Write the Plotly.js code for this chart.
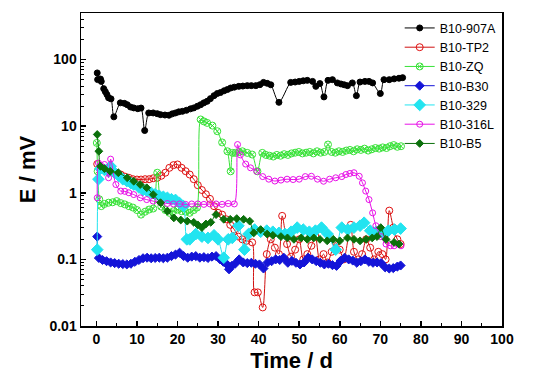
<!DOCTYPE html>
<html>
<head>
<meta charset="utf-8">
<script src="https://cdn.plot.ly/plotly-3.0.1.min.js"></script>
<style>html,body{margin:0;padding:0;background:#fff;}#chart{width:536px;height:379px;}</style>
</head>
<body>
<div id="chart"></div>
<script>
// ---- Data (time in days, potential in mV) ----
var seriesNames = ["B10-907A", "B10-TP2", "B10-ZQ", "B10-B30", "B10-329", "B10-316L", "B10-B5"];

var a907X = [0.2, 0.3, 1.0, 1.2, 1.8, 2.2, 2.6, 3.0, 3.6, 4.3,
             5.9, 6.9, 7.6, 8.4, 9.2, 10.2, 11.0, 11.9, 12.9, 14.0,
             15.0, 15.8, 16.9, 17.9, 18.7, 19.5, 20.3, 21.2, 22.2, 23.2,
             24.0, 24.9, 25.7, 26.5, 27.3, 28.1, 29.0, 29.8, 30.6, 31.5,
             32.3, 33.1, 34.0, 35.1, 36.1, 37.2, 38.2, 39.3, 40.3, 41.2,
             42.1, 43.0, 45.0, 47.9, 49.0, 50.0, 51.0, 52.0, 53.3, 54.1,
             55.1, 56.1, 57.1, 58.2, 59.4, 60.3, 61.1, 61.9, 63.1, 64.1,
             65.0, 66.2, 67.2, 68.1, 70.0, 70.9, 72.2, 73.4, 74.6, 75.5];
var a907Y = [63, 50, 51, 47, 36.6, 33, 29.8, 26.6, 25.7, 13.8,
             22.4, 22, 21, 19.4, 18.8, 18.3, 18.7, 8.6, 15.8, 15.8,
             15.4, 14.9, 14.7, 14.6, 15.3, 15.8, 16.4, 16.7, 17.3, 18.2,
             18.8, 19.9, 21, 22.4, 23.6, 25.9, 28.7, 30.9, 32, 34,
             35.5, 37.4, 38.5, 39.6, 40, 40.6, 40.6, 40.6, 42, 45.4,
             44, 41.8, 22.8, 45.4, 46, 47, 48, 48.7, 47, 39.6,
             43.6, 27.5, 48.7, 49.9, 44.6, 43, 41.8, 40.6, 44.6, 28.7,
             46, 47, 47, 44.6, 30.9, 49.9, 49.9, 51.3, 52.4, 53.5];

var tp2X = [0.2, 1.0, 2.0, 3.0, 4.0, 5.0, 6.0, 7.0, 8.0, 9.0,
            10.0, 11.0, 12.0, 13.0, 14.0, 15.0, 16.0, 17.0, 18.0, 19.0,
            20.0, 21.0, 22.0, 23.0, 24.0, 25.0, 26.0, 27.0, 28.0, 29.0,
            30.0, 31.0, 32.0, 33.0, 34.0, 35.0, 36.0, 37.0, 38.4, 39.0,
            39.8, 41.0, 42.0, 43.0, 44.0, 45.0, 45.8, 47.0, 48.0, 49.0,
            50.0, 51.0, 52.0, 53.0, 54.0, 55.0, 56.0, 57.0, 58.0, 59.0,
            60.0, 61.0, 62.7, 63.5, 64.5, 65.5, 66.5, 67.5, 68.5, 69.5,
            70.5, 71.3, 72.2, 73.2, 74.2, 75.0];
var tp2Y = [2.7, 2.4, 2.2, 2.05, 2.0, 2.0, 1.88, 1.75, 1.68, 1.6,
            1.58, 1.58, 1.6, 1.6, 1.65, 1.68, 1.8, 2.0, 2.37, 2.6,
            2.66, 2.37, 2.11, 1.88, 1.6, 1.3, 1.1, 0.95, 0.81, 0.63,
            0.5, 0.47, 0.4, 0.33, 0.28, 0.22, 0.2, 0.19, 0.18, 0.032,
            0.032, 0.019, 0.12, 0.2, 0.15, 0.12, 0.45, 0.17, 0.11, 0.14,
            0.2, 0.1, 0.12, 0.16, 0.22, 0.1, 0.12, 0.09, 0.13, 0.18,
            0.14, 0.1, 0.33, 0.13, 0.1, 0.12, 0.2, 0.15, 0.1, 0.13,
            0.12, 0.1, 0.54, 0.3, 0.2, 0.17];

var zqX = [0.1, 0.3, 0.7, 1.2, 2.0, 3.0, 4.0, 5.0, 6.0, 7.0,
           8.0, 9.0, 10.0, 11.0, 12.0, 13.0, 14.0, 15.0, 16.0, 17.0,
           18.0, 19.0, 20.0, 21.0, 22.0, 23.0, 24.0, 24.8, 25.7, 26.5,
           27.3, 28.6, 29.8, 31.0, 32.3, 33.1, 33.6, 34.3, 35.2, 36.0,
           37.2, 38.4, 39.7, 40.9, 41.8, 42.7, 43.6, 44.5, 45.4, 46.3,
           47.2, 48.1, 49.0, 49.9, 50.8, 51.7, 52.6, 53.5, 54.4, 55.3,
           56.2, 57.1, 58.0, 58.9, 59.8, 60.7, 61.6, 62.5, 63.4, 64.3,
           65.2, 66.1, 67.0, 67.9, 68.8, 69.7, 70.6, 71.5, 72.4, 73.3,
           74.2, 75.1];
var zqY = [5.6, 2.1, 0.8, 0.63, 0.68, 0.71, 0.72, 0.75, 0.7, 0.67,
           0.63, 0.6, 0.55, 0.47, 0.52, 0.56, 0.58, 2.0, 0.62, 0.55,
           0.5, 0.53, 0.56, 0.53, 0.52, 0.5, 0.55, 0.6, 12.6, 11.8,
           11.2, 10.2, 8.4, 5.7, 4.2, 2.1, 3.97, 3.97, 4.1, 4.2,
           3.97, 3.75, 2.1, 3.97, 3.7, 3.6, 3.5, 3.7, 3.6, 3.8,
           3.7, 3.9, 4.0, 4.1, 3.9, 4.0, 4.1, 3.9, 4.2, 4.0,
           4.1, 5.3, 4.1, 4.0, 4.2, 4.1, 4.3, 4.4, 4.2, 4.5,
           4.4, 4.6, 4.3, 4.5, 4.7, 4.6, 4.8, 4.7, 5.0, 5.2,
           4.9, 5.0];

var b30X = [0.2, 0.6, 1.5, 2.5, 3.5, 4.5, 5.5, 6.5, 7.5, 8.5,
            9.5, 10.5, 11.5, 12.5, 13.5, 14.5, 15.5, 16.5, 17.5, 18.5,
            19.5, 20.5, 21.5, 22.5, 23.5, 24.5, 25.5, 26.5, 27.5, 28.5,
            29.5, 30.5, 31.3, 32.2, 32.7, 33.4, 34.2, 35.2, 36.2, 37.2,
            38.2, 39.2, 40.2, 41.2, 42.2, 43.2, 44.2, 45.2, 46.2, 47.2,
            48.2, 49.2, 50.2, 51.2, 52.2, 53.2, 54.2, 55.2, 56.2, 57.2,
            58.2, 59.2, 60.2, 61.2, 62.2, 63.2, 64.2, 65.2, 66.2, 67.2,
            68.2, 69.2, 70.2, 71.2, 72.2, 73.2, 74.2, 75.0];
var b30Y = [0.22, 0.105, 0.098, 0.094, 0.09, 0.088, 0.086, 0.085, 0.084, 0.086,
            0.092, 0.098, 0.104, 0.106, 0.104, 0.105, 0.106, 0.104, 0.106, 0.112,
            0.118, 0.126, 0.112, 0.106, 0.11, 0.112, 0.106, 0.108, 0.105, 0.11,
            0.112, 0.1, 0.092, 0.084, 0.071, 0.08, 0.086, 0.1, 0.09, 0.088,
            0.089, 0.086, 0.084, 0.073, 0.09, 0.094, 0.1, 0.098, 0.106, 0.089,
            0.095, 0.089, 0.084, 0.09, 0.106, 0.1, 0.094, 0.089, 0.084, 0.086,
            0.082, 0.08, 0.095, 0.106, 0.1, 0.096, 0.089, 0.094, 0.1, 0.092,
            0.089, 0.09, 0.088, 0.076, 0.073, 0.074, 0.078, 0.081];

var s329X = [0.2, 0.5, 1.0, 2.0, 3.0, 3.5, 4.5, 5.5, 6.5, 7.5,
             8.5, 9.2, 10.5, 11.5, 12.5, 13.5, 14.5, 15.5, 16.5, 17.5,
             18.5, 19.5, 20.5, 21.5, 22.3, 23.0, 24.5, 26.0, 27.5, 29.0,
             30.0, 31.4, 32.5, 33.5, 35.0, 36.5, 37.5, 39.0, 40.5, 42.0,
             43.5, 45.0, 46.5, 48.0, 49.5, 51.0, 52.5, 54.0, 55.5, 57.0,
             59.0, 60.5, 62.0, 63.5, 65.0, 66.0, 67.5, 69.0, 70.5, 72.0,
             73.5, 75.0];
var s329Y = [0.14, 1.6, 2.3, 2.2, 2.1, 2.5, 2.0, 1.8, 1.6, 1.5,
             1.4, 1.33, 1.2, 1.1, 1.06, 1.0, 0.95, 0.9, 0.87, 0.84,
             0.8, 0.78, 0.7, 0.63, 0.2, 0.2, 0.24, 0.22, 0.21, 0.23,
             0.2, 0.106, 0.2, 0.21, 0.32, 0.14, 0.24, 0.28, 0.26, 0.27,
             0.26, 0.25, 0.24, 0.26, 0.3, 0.28, 0.26, 0.27, 0.3, 0.24,
             0.14, 0.3, 0.28, 0.3, 0.32, 0.355, 0.27, 0.26, 0.25, 0.27,
             0.28, 0.29];

var s316X = [0.2, 0.5, 1.0, 2.0, 3.0, 3.5, 4.8, 6.0, 7.0, 8.0,
             9.2, 10.8, 12.4, 14.0, 15.8, 17.5, 19.0, 20.5, 22.0, 23.5,
             25.0, 26.5, 28.0, 29.5, 31.0, 32.5, 34.0, 34.8, 35.5, 36.8,
             38.0, 39.5, 41.0, 42.5, 44.0, 45.5, 47.0, 48.5, 50.0, 51.5,
             53.0, 54.5, 56.0, 57.5, 59.0, 60.5, 61.5, 62.5, 63.5, 64.8,
             65.6, 66.4, 67.2, 68.1, 68.9, 70.1, 71.4, 72.5, 73.4, 74.3,
             75.1];
var s316Y = [0.84, 2.8, 2.6, 2.66, 1.68, 3.2, 1.33, 1.06, 1.05, 1.0,
             0.94, 0.84, 0.79, 0.75, 0.71, 0.69, 0.68, 0.68, 0.67, 0.68,
             0.68, 0.67, 0.68, 0.68, 0.67, 0.69, 0.68, 5.3, 3.7, 2.7,
             2.37, 2.1, 1.75, 1.6, 1.5, 1.55, 1.6, 1.58, 1.6, 1.75,
             1.77, 1.6, 1.49, 1.6, 1.68, 1.75, 1.88, 1.95, 2.0, 1.77,
             1.41, 1.06, 0.79, 0.5, 0.32, 0.22, 0.17, 0.16, 0.16, 0.17,
             0.16];

var b5X = [0.2, 0.6, 1.0, 2.0, 3.4, 5.4, 7.6, 9.2, 10.8, 12.4,
           14.0, 15.8, 17.5, 19.1, 20.8, 22.4, 24.0, 25.0, 26.0, 27.0,
           28.2, 29.5, 31.4, 33.0, 34.6, 36.3, 37.8, 38.8, 40.5, 42.1,
           43.5, 45.5, 47.1, 48.7, 50.5, 52.0, 53.6, 55.1, 56.9, 58.4,
           60.0, 61.9, 63.5, 65.0, 66.5, 68.0, 69.2, 70.1, 71.4, 73.4,
           74.6];
var b5Y = [7.5, 4.2, 2.5, 2.3, 2.1, 2.0, 1.68, 1.49, 1.33, 1.19,
           0.94, 0.71, 0.53, 0.42, 0.39, 0.375, 0.36, 0.33, 0.3, 0.34,
           0.36, 0.47, 0.4, 0.4, 0.41, 0.4, 0.375, 0.25, 0.28, 0.24,
           0.23, 0.22, 0.21, 0.2, 0.21, 0.2, 0.21, 0.2, 0.19, 0.2,
           0.19, 0.21, 0.2, 0.19, 0.2, 0.21, 0.22, 0.3, 0.2, 0.18,
           0.17];

var xTickVals = [0, 10, 20, 30, 40, 50, 60, 70, 80, 90, 100];
var yTickVals = [0.01, 0.1, 1, 10, 100];
var yTickText = ["0.01", "0.1", "1", "10", "100"];

// ---- Styles ----
function mk(name, x, y, color, symbol, size, lineColor) {
  return {
    type: "scatter", mode: "lines+markers", name: name, x: x, y: y,
    line: {color: lineColor || color, width: 1, shape: "spline", smoothing: 0.8},
    marker: {color: color, symbol: symbol, size: size, line: {color: color, width: 1}}
  };
}
var traces = [
  mk(seriesNames[0], a907X, a907Y, "#000000", "circle", 6),
  mk(seriesNames[1], tp2X, tp2Y, "#e01010", "circle-open", 7, "#d01010"),
  mk(seriesNames[2], zqX, zqY, "#38e238", "circle-x-open", 7),
  mk(seriesNames[3], b30X, b30Y, "#1414d8", "diamond", 7),
  mk(seriesNames[4], s329X, s329Y, "#22e4f0", "diamond", 9),
  mk(seriesNames[5], s316X, s316Y, "#e810e8", "circle-open", 6),
  mk(seriesNames[6], b5X, b5Y, "#0b700b", "diamond", 6)
];

var minorY = [];
for (var d = -2; d < 3; d++) {
  for (var m = 2; m <= 9; m++) {
    var v = m * Math.pow(10, d);
    if (v < 500) minorY.push(v);
  }
}

var tickFont = {family: "Liberation Sans, Arial, sans-serif", size: 14, color: "#000", weight: "bold"};
var titleFont = {family: "Liberation Sans, Arial, sans-serif", size: 22, color: "#000", weight: "bold"};

var layout = {
  width: 536, height: 379,
  margin: {l: 81, r: 34, t: 13, b: 53, pad: 0},
  paper_bgcolor: "#fff", plot_bgcolor: "#fff",
  showlegend: true,
  legend: {
    x: 0.757, y: 0.999, xanchor: "left", yanchor: "top",
    bgcolor: "rgba(0,0,0,0)", borderwidth: 0, tracegroupgap: 0,
    font: {family: "Liberation Sans, Arial, sans-serif", size: 12.5, color: "#000"}
  },
  xaxis: {
    range: [-3.8, 100], tickvals: xTickVals, ticks: "inside", ticklen: 5, tickwidth: 1.5,
    tickcolor: "#000",
    minor: {dtick: 5, tick0: 0, ticks: "inside", ticklen: 3, tickwidth: 1, tickcolor: "#000", showgrid: false},
    showline: true, mirror: true, linecolor: "#000", linewidth: 1.5,
    showgrid: false, zeroline: false, tickfont: tickFont,
    title: {text: "Time / d", font: titleFont, standoff: 6}
  },
  yaxis: {
    type: "log", range: [-2, 2.699], tickvals: yTickVals, ticktext: yTickText,
    ticks: "inside", ticklen: 5, tickwidth: 1.5, tickcolor: "#000",
    minor: {tickvals: minorY, ticks: "inside", ticklen: 3, tickwidth: 1, tickcolor: "#000", showgrid: false},
    showline: true, mirror: true, linecolor: "#000", linewidth: 1.5,
    showgrid: false, zeroline: false, tickfont: tickFont,
    title: {text: "E / mV", font: titleFont, standoff: 8}
  }
};

Plotly.newPlot("chart", traces, layout, {displayModeBar: false, staticPlot: true});
</script>
</body>
</html>
